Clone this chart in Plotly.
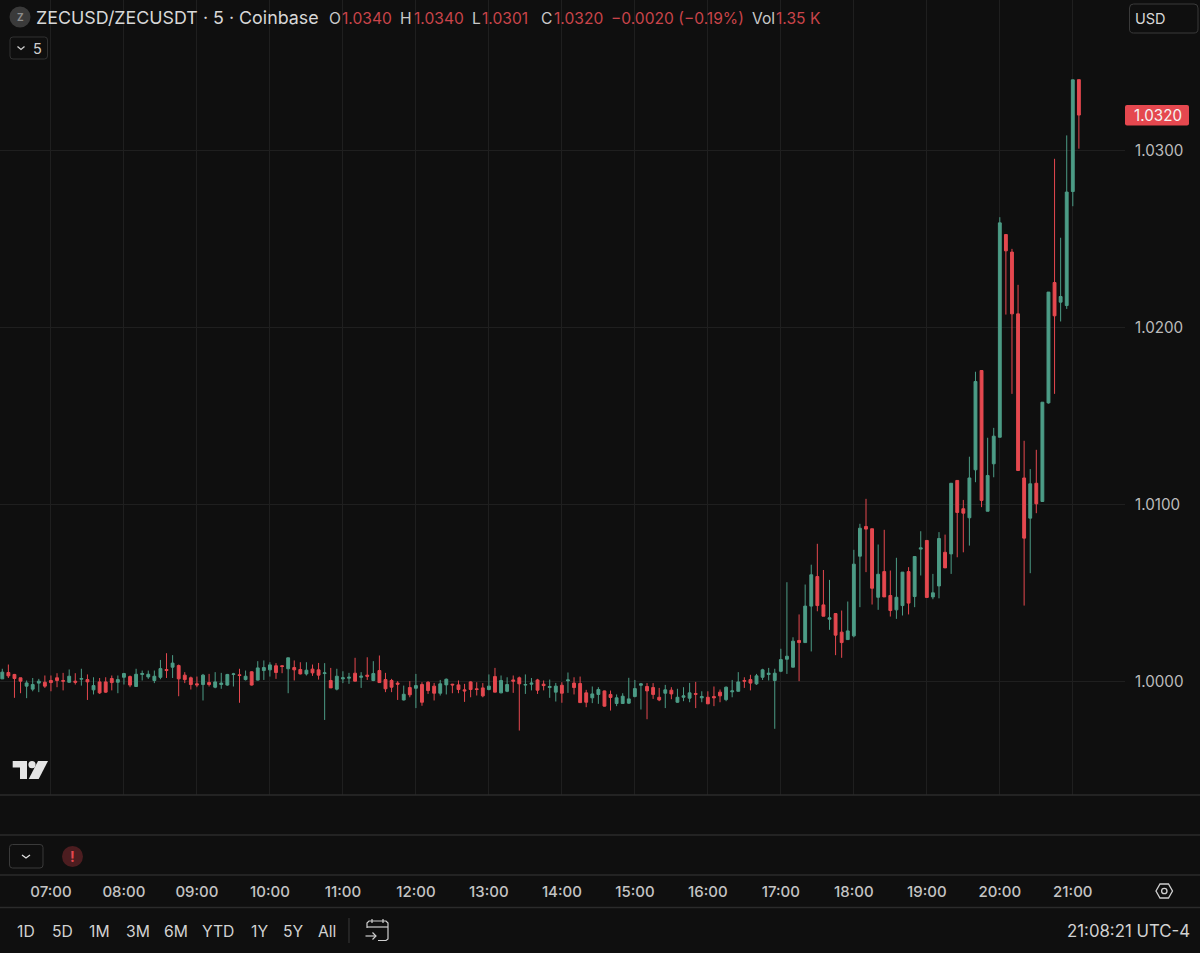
import pandas as pd
import plotly.graph_objects as go

W, H = 1200, 953
BASE_PRICE = 1.0
SESSION_START = "2025-10-06 06:20"
BAR_MINUTES = 5

# candle values, in pips (0.0001) away from 1.0000
open_pips = [
    1.5,5.1,4,2.1,-2.6,-4.3,-.9,-.4,.6,2.1,
    .6,-.4,.2,1.3,1.1,-4.7,-.2,-.2,1.7,-.4,
    2.4,2.8,-2.8,4,2.6,.6,2.4,6.8,8.1,9,
    3.6,2.1,-1.3,-1.7,-.6,-3.2,-1.7,-2,4,3.8,
    1.1,5.5,.8,6.2,6.6,8.9,8.9,7.2,7.9,6.8,
    4.3,7,6.6,4.5,.6,-4.3,1.5,1.9,4.7,2.4,
    3.6,.6,6.2,1.1,.6,-.9,-10.4,-3.4,-3.8,-1.7,
    -.4,-2.6,-6.6,-1.9,-1.5,-1.9,-4.7,-.2,-4.1,-3.6,
    -4.5,2.8,-6.4,-5.5,.9,2.1,-2,-1.5,.9,-1.5,
    -3.4,-6,-2.1,.4,-.9,-1.1,-6.4,-9.2,-7.3,-5.3,
    -7.3,-12.4,-12.4,-12.2,-8.5,-2.1,-2.8,-3.4,-8.9,-6.6,
    -4.9,-11.7,-8.9,-9.4,-6.8,-9.2,-8.9,-8.5,-6,-10.2,
    -5.8,-5.5,.6,1.1,-1.3,2.4,4,.6,5.8,12.6,
    8.1,23.2,22,42.6,59.3,43.3,35.2,38.4,27.9,23.7,
    25.8,70.8,87.6,86.3,47.6,62.1,48.6,40.5,42.9,62.1,
    48,74.8,79.7,47.8,54,73,72.1,113.6,97.6,92.5,
    119.6,175.7,96.2,123,138,252.5,242.6,207.7,115,92.3,
    112,101.7,157.4,225.4,214.3,212.4,276.8,340,
]
high_pips = [
    7.2,9.6,4.3,2.1,.6,2,1.5,3.4,3.4,4.7,
    4.9,6.8,4.7,7.2,4,2.4,2,2.4,3.4,3.4,
    4.9,3.4,7.2,6.2,6.2,6.2,12.2,16,14.9,9.6,
    5.3,2.8,2.8,4.3,4.3,5.3,4.9,4.3,4.9,7.2,
    6.2,5.8,11.5,11.9,10.9,10.4,9.2,13.4,11.9,10.9,
    10.9,9.6,10.5,10.4,7.7,7.2,5.8,4.9,13.4,5.3,
    13.7,11.5,14.7,4.9,1.5,.2,-2.3,.2,4.3,-.4,
    .2,-.8,.9,1.7,-1.3,.6,-1.3,.2,-.4,-.9,
    4,7.7,3.4,2.4,3.4,2.8,4,2,1.5,.6,
    1.1,-.8,-.4,5.1,2.4,2.8,-4.7,-2.8,-3.2,-5.1,
    -5.1,-7.3,-6.6,2.1,.9,-.8,-.9,-.9,-3.6,-1.9,
    -3.2,-4.1,-3.2,-.8,-.2,-5.5,-5.5,-2.8,-4.5,-2.8,
    .9,5.3,2.4,3.8,4.3,7.2,7.7,7.2,18.5,56.1,
    25,37.9,54.8,66,77.8,63,57.4,38.4,40.1,45.2,
    74.4,89.1,103.2,86.3,77.4,85.7,62.7,69.9,61.8,64.6,
    70.6,84.9,79.7,60.8,84.4,83,112,113.6,102.6,127,
    175,175.7,137.7,143.3,262.3,252.5,244.4,224.1,136,120,
    130.9,157.8,220,295.3,250.7,308.5,340,340,
]
low_pips = [
    1.5,2,-9.2,-6.6,-9.4,-5.5,-6,-3.6,-5.5,-3.2,
    -5,-.8,-1.7,-2.3,-10.4,-7.3,-7,-6.4,-5,-6.6,
    -1.7,-3.2,-2.8,.6,1.5,-.9,1.3,2,2,-8.3,
    -.9,-4.5,-3.2,-10.7,-2.8,-3.8,-4.1,-2.4,-2.8,-12,
    .6,-2.3,.6,.9,2.8,1.5,4.7,-6.6,.6,4,
    3.4,3.2,1.1,-21.7,-3.6,-5,-.9,-1.3,.2,-3.6,
    .9,.2,-.6,-6,-6,-10.4,-10.7,-8.9,-15,-13.7,
    -7,-10.7,-7.9,-7.3,-6.6,-6.6,-11.5,-8.9,-7.9,-8.9,
    -5,-6,-6.6,-6,-6.4,-27.7,-7,-5,-7,-5,
    -9.2,-11.3,-12,-6.4,-7.3,-11.9,-14.5,-12.2,-12.6,-14.1,
    -16.4,-13.9,-12.6,-12.6,-8.9,-15.8,-21.3,-9.8,-11.1,-15,
    -10,-12,-11.1,-11.7,-15,-11.7,-12.6,-13.9,-11.7,-11.1,
    -8.9,-5.6,-3.6,-5,-1.9,.9,.6,-26.7,5.3,4.3,
    8.1,.2,22,17,39.7,36.9,29.2,14.9,13.4,23.5,
    25,42,61.8,43.5,40.5,47.8,36.7,35.4,37.3,37.9,
    42,59.9,47.5,46.5,47,64.2,60.8,70.2,73,76.8,
    112.6,98.5,96.2,115.4,138,207.3,162.5,119.2,42.9,61.2,
    95.1,101.7,157,162.5,203.4,210.5,268.5,301,
]
close_pips = [
    5.3,3.2,1.7,.2,-.8,-1.7,.2,-2.6,-.6,.6,
    .2,3,-.4,1.7,-.2,-2.3,-6.4,-6,-.6,1.1,
    4.5,-2,4.1,4.5,4.1,3,7.3,6.2,10.4,1.5,
    1.1,-1.7,-1.9,3.6,-1.7,-.2,-.9,4,4.3,3.4,
    3,-2,7.7,7.9,9.4,5.1,8.5,13.4,6.6,4.3,
    6.4,4.9,3.6,4.9,-3.6,3,2.1,2.4,.2,3,
    3,4.5,-.6,-4.1,-3.2,-1.5,-7.2,-7.5,-2.3,-11.7,
    -5.1,-6.6,-1.3,1.3,-1.9,-4.5,-5.3,-4.5,-4.5,-8.1,
    -2.6,-6,.6,-1.7,.2,-1.3,-1.7,-.9,-4.9,-2.3,
    -2.8,-2.6,-6.6,.9,-3.4,-11.9,-11.7,-7,-4.5,-13.9,
    -9,-9.2,-8.3,-9.8,-4,-1.3,-5.3,-7.3,-10.4,-4.7,
    -7,-8.9,-8.1,-6.4,-7.2,-8.5,-12.6,-9.2,-8.1,-3.2,
    -5.3,-.2,.2,-.9,3.2,6.6,4.7,4.7,12.4,14.3,
    22.8,22,42.6,60.3,42.9,36.9,36,26.2,22,28.6,
    66.3,86.6,86.1,52.7,60.6,47.8,40.1,47.6,61.8,44.3,
    70.6,75.5,47.5,50.1,80.8,64.2,112,95.5,95.1,115,
    169.5,102.3,116.4,138.6,259.1,243.3,207.7,119.2,81,111.7,
    100.4,157.8,220,206.6,217.5,276.5,339.9,320,
]
assert len(open_pips) == len(high_pips) == len(low_pips) == len(close_pips) == 178

price_ticks = [1.0000, 1.0100, 1.0200, 1.0300]
range_buttons = [("1D", 26), ("5D", 62), ("1M", 99), ("3M", 138), ("6M", 176),
                 ("YTD", 218), ("1Y", 259), ("5Y", 293), ("All", 327)]
legend_parts = [("O", 328, "#c9c9c9"), ("1.0340", 341, "#c9444a"), ("H", 399, "#c9c9c9"),
                ("1.0340", 413, "#c9444a"), ("L", 471, "#c9c9c9"), ("1.0301", 481, "#c9444a"),
                ("C", 540, "#c9c9c9"), ("1.0320", 553, "#c9444a"),
                ("−0.0020 (−0.19%)", 610, "#c9444a"), ("Vol", 751, "#c9c9c9"),
                ("1.35 K", 775, "#c9444a")]

BG = "#0f0f0f"
GRID = "#1f1f1f"
SEP = "#2b2b2b"
UP = "#4c9c86"
DOWN = "#e5484f"
TXT = "#d4d4d4"
FONT = "Inter"


def to_price(pips):
    return [round(BASE_PRICE + p / 10000, 5) for p in pips]


times = pd.date_range(SESSION_START, periods=len(open_pips), freq=f"{BAR_MINUTES}min")


def fx(x):
    return x / W


def fy(y):
    return 1 - y / H


def path(points, close=False):
    s = "M" + " L".join(f"{fx(x):.5f} {fy(y):.5f}" for x, y in points)
    return s + (" Z" if close else "")


def rrect(x0, y0, x1, y1, r):
    pts = [
        ("M", x0 + r, y0), ("L", x1 - r, y0), ("Q", x1, y0, x1, y0 + r),
        ("L", x1, y1 - r), ("Q", x1, y1, x1 - r, y1), ("L", x0 + r, y1),
        ("Q", x0, y1, x0, y1 - r), ("L", x0, y0 + r), ("Q", x0, y0, x0 + r, y0),
    ]
    out = []
    for p in pts:
        c = p[0]
        nums = p[1:]
        coords = " ".join(f"{fx(nums[i]):.5f} {fy(nums[i+1]):.5f}" for i in range(0, len(nums), 2))
        out.append(c + coords)
    return " ".join(out) + " Z"


shapes = []


def add_path(d, line=None, fill=None, width=1):
    shapes.append(dict(type="path", xref="paper", yref="paper", path=d,
                       line=dict(color=line or "rgba(0,0,0,0)", width=width if line else 0),
                       fillcolor=fill or "rgba(0,0,0,0)", layer="above"))


def add_circle(cx, cy, r, line=None, fill=None, width=1):
    shapes.append(dict(type="circle", xref="paper", yref="paper",
                       x0=fx(cx - r), x1=fx(cx + r), y0=fy(cy - r), y1=fy(cy + r),
                       line=dict(color=line or "rgba(0,0,0,0)", width=width if line else 0),
                       fillcolor=fill or "rgba(0,0,0,0)", layer="above"))


annotations = []


def text(s, x, y, size=15, color=TXT, anchor="left", weight=400):
    annotations.append(dict(text=s, x=fx(x), y=fy(y), xref="paper", yref="paper",
                            xanchor=anchor, yanchor="middle", showarrow=False,
                            font=dict(family=FONT, size=size, color=color, weight=weight),
                            borderpad=0))


# separators
for yy in [795, 835, 875, 907.5]:
    add_path(path([(0, yy), (W, yy)]), line=SEP, width=1.5)

# header
add_circle(20, 17, 10.5, fill="#3a3a3a")
text("Z", 20, 17.5, size=10, color="#8c8c8c", anchor="center", weight=700)
text("ZECUSD/ZECUSDT · 5 · Coinbase", 35, 18, size=17.85, color="#d8d8d8")
for s, x, c in legend_parts:
    text(s, x, 18.5, size=15.6, color=c)

# interval chip
add_path(rrect(10, 37, 47.5, 59, 3), line="#323232", width=1)
add_path(path([(17.5, 46.5), (21, 49.5), (24.5, 46.5)]), line="#d0d0d0", width=1.3)
text("5", 37.5, 48.5, size=14.5, color="#cfcfcf", anchor="center")

# currency chip
add_path(rrect(1129.5, 4, 1198, 33, 4), line="#3a3a3a", width=1)
text("USD", 1133.5, 19, size=14.5, color="#d8d8d8")

# last price tag
add_path(rrect(1125, 105, 1189, 125.5, 2), fill=DOWN)
annotations.append(dict(text=f"{BASE_PRICE + close_pips[-1] / 10000:.4f}", x=fx(1183.5),
                        y=BASE_PRICE + close_pips[-1] / 10000, xref="paper", yref="y",
                        xanchor="right", yanchor="middle", showarrow=False,
                        font=dict(family=FONT, size=15.2, color="#f4f4f4")))

# TradingView logo
add_path(path([(12.7, 761), (27, 761), (27, 779), (20, 779), (20, 767.5), (12.7, 767.5)], True), fill="#e4e4e4")
add_circle(32, 764.7, 3.6, fill="#e4e4e4")
add_path(path([(38, 761), (48, 761), (38.7, 779), (28.7, 779)], True), fill="#e4e4e4")

# lower pane controls
add_path(rrect(9.5, 844.5, 43, 868, 3), line="#3a3a3a", width=1)
add_path(path([(22, 855), (26, 858), (30, 855)]), line="#e0e0e0", width=1.3)
add_circle(72.5, 856.5, 10.5, fill="#4c1d20")
text("!", 72.5, 856, size=14, color="#e5484f", anchor="center", weight=700)

# settings hexagon
add_path(path([(1156, 891), (1160, 884), (1168.5, 884), (1172.5, 891), (1168.5, 898), (1160, 898)], True),
         line="#d0d0d0", width=1.3)
add_circle(1164.3, 891, 2.7, line="#d0d0d0", width=1.3)

# range buttons
for label, cx in range_buttons:
    text(label, cx, 931, size=15.7, color="#d2d2d2", anchor="center")
add_path(path([(349, 918), (349, 943)]), line="#3a3a3a", width=1)

# calendar icon
add_path(path([(367, 928), (367, 923), (369, 921), (386, 921), (388, 923), (388, 939), (386, 940.5), (378, 940.5)]),
         line="#d0d0d0", width=1.2)
add_path(path([(367, 927), (388, 927)]), line="#d0d0d0", width=1.2)
add_path(path([(372, 919), (372, 923)]), line="#d0d0d0", width=1.2)
add_path(path([(383, 919), (383, 923)]), line="#d0d0d0", width=1.2)
add_path(path([(365.5, 936), (376, 936)]), line="#d0d0d0", width=1.2)
add_path(path([(372.5, 932.5), (376, 936), (372.5, 939.5)]), line="#d0d0d0", width=1.2)

text("21:08:21 UTC-4", 1191, 931, size=16.8, color="#d2d2d2", anchor="right")

fig = go.Figure(go.Candlestick(
    x=times,
    open=to_price(open_pips),
    high=to_price(high_pips),
    low=to_price(low_pips),
    close=to_price(close_pips),
    increasing=dict(line=dict(color=UP, width=1), fillcolor=UP),
    decreasing=dict(line=dict(color=DOWN, width=1), fillcolor=DOWN),
    whiskerwidth=0,
    hoverinfo="skip",
))

fig.update_layout(
    width=W, height=H,
    margin=dict(l=0, r=0, t=0, b=0),
    paper_bgcolor=BG, plot_bgcolor=BG,
    showlegend=False,
    boxgap=0.33,
    font=dict(family=FONT, color=TXT),
    shapes=shapes,
    annotations=annotations,
    xaxis=dict(
        type="date",
        domain=[0, 1124.5 / W],
        range=["2025-10-06 06:18:07", "2025-10-06 21:42:30"],
        rangeslider=dict(visible=False),
        anchor="free",
        position=fy(881),
        tick0="2025-10-06 07:00",
        dtick=3600000,
        tickformat="%H:%M",
        ticklen=0,
        tickfont=dict(family=FONT, size=15, color="#c4c4c4", weight=500),
        showline=False,
        zeroline=False,
        showgrid=True,
        gridcolor=GRID,
        gridwidth=1,
    ),
    yaxis=dict(
        domain=[fy(795), 1],
        range=[0.99359, 1.0385],
        side="right",
        tickmode="array",
        tickvals=price_ticks,
        tickformat=".4f",
        ticks="outside",
        ticklen=6.5,
        tickcolor="rgba(0,0,0,0)",
        tickfont=dict(family=FONT, size=15.2, color="#bcbcbc"),
        showline=False,
        zeroline=False,
        showgrid=True,
        gridcolor=GRID,
        gridwidth=1,
    ),
)

fig.write_html(
    "out.html",
    config=dict(displayModeBar=False),
    post_script="document.body.style.margin='0';document.body.style.background='#0f0f0f';document.body.style.overflow='hidden';",
)
